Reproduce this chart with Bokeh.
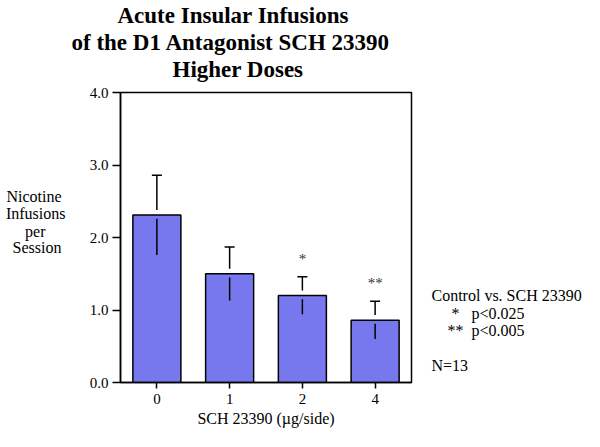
from bokeh.plotting import figure
from bokeh.models import (ColumnDataSource, Whisker, TeeHead, Title, PrintfTickFormatter,
                          FixedTicker, FactorRange, Range1d, LinearAxis)
from bokeh.embed import file_html
from bokeh.resources import INLINE
from bokeh.core.properties import value

# ---- data ----
doses = ["0", "1", "2", "4"]
means = [2.31, 1.50, 1.20, 0.86]
sems = [0.55, 0.37, 0.26, 0.26]
sig_marks = ["", "", "*", "**"]

title_lines = ["Acute Insular Infusions", "of the D1 Antagonist SCH 23390", "Higher Doses"]
ylabel_lines = ["Nicotine", "Infusions", "per", "Session"]
xlabel = "SCH 23390 (\u00b5g/side)"
y_ticks = [0, 1, 2, 3, 4]
note_lines = ["Control vs. SCH 23390", "*  p<0.025", "** p<0.005", "N=13"]

W, H = 584, 431
FL, FT, FW, FH = 120, 91, 292, 291   # frame left/top/width/height (page px)
FONT = "Liberation Serif"
BAR = "#7878EE"
NB = "\u00a0"

upper = [m + s for m, s in zip(means, sems)]
lower = [m - s for m, s in zip(means, sems)]
src = ColumnDataSource(dict(
    dose=doses, mean=means, upper=upper, lower=lower,
    up_a=[m + 0.07 for m in means], lo_a=[m - 0.05 for m in means],
    sig=sig_marks, sig_y=[u + 0.25 for u in upper],
))

p = figure(width=W, height=H, x_range=FactorRange(*doses, range_padding=0),
           y_range=Range1d(0, 4), output_backend="svg", toolbar_location=None,
           title_location=None,
           min_border_left=FL, min_border_right=W - FL - FW, min_border_top=FT,
           min_border_bottom=H - FT - FH)
# a range in page pixels (bottom of frame -> top of frame) for positioning side texts
p.extra_y_ranges = {"page": Range1d(FT + FH, FT)}
p.grid.visible = False
p.background_fill_color = "white"
p.border_fill_color = "white"
p.outline_line_color = "black"
p.outline_line_width = 1.5

# title lines: spacer nearest the frame, then bottom line first
p.add_layout(Title(text=" ", text_font_size="8px", standoff=0), "above")
title_left = [117, 71, 172]
for t, lx in reversed(list(zip(title_lines, title_left))):
    p.add_layout(Title(text=t, align="left", offset=lx - FL, text_font=FONT,
                       text_font_size="23px", text_font_style="bold", text_color="black",
                       standoff=0), "above")

p.vbar(x="dose", top="mean", width=0.66, source=src, fill_color=BAR,
       line_color="black", line_width=1.5)

# stems with small gap around bar top
p.segment(x0="dose", y0="up_a", x1="dose", y1="upper", source=src, line_color="black", line_width=1.5)
p.segment(x0="dose", y0="lower", x1="dose", y1="lo_a", source=src, line_color="black", line_width=1.5)
w = Whisker(base="dose", upper="upper", lower="lower", source=src, line_alpha=0,
            upper_head=TeeHead(size=10, line_color="black", line_width=1.5),
            lower_head=TeeHead(size=10, line_color="black", line_width=1.5))
p.add_layout(w)

p.text(x="dose", y="sig_y", text="sig", source=src, text_font=value(FONT),
       text_font_size="15px", text_align="center", text_baseline="middle", text_color="#333333")

# axes
for ax in (p.xaxis[0], p.yaxis[0]):
    ax.axis_line_color = "black"
    ax.axis_line_width = 1.5
    ax.major_tick_line_color = "black"
    ax.major_tick_line_width = 1.5
    ax.major_tick_out = 6
    ax.major_tick_in = 0
    ax.minor_tick_line_color = None
    ax.major_label_text_font = FONT
    ax.major_label_text_font_size = "15px"
    ax.major_label_text_color = "black"
p.yaxis[0].ticker = FixedTicker(ticks=y_ticks)
p.yaxis[0].formatter = PrintfTickFormatter(format="%.1f")
p.yaxis[0].major_tick_out = 8
p.yaxis[0].major_label_standoff = 4
p.xaxis[0].major_label_standoff = 5
p.xaxis[0].axis_label = xlabel
p.xaxis[0].axis_label_text_font = FONT
p.xaxis[0].axis_label_text_font_size = "16px"
p.xaxis[0].axis_label_text_font_style = "normal"
p.xaxis[0].axis_label_text_color = "black"
p.xaxis[0].axis_label_standoff = 3

def text_axis(side, ys, lines, standoff):
    ax = LinearAxis(y_range_name="page", ticker=FixedTicker(ticks=ys),
                    major_label_overrides={y: t for y, t in zip(ys, lines)},
                    axis_line_color=None, major_tick_line_color=None,
                    minor_tick_line_color=None, major_tick_out=0, major_tick_in=0,
                    major_label_standoff=standoff, major_label_text_font=FONT,
                    major_label_text_font_size="16px", major_label_text_color="black")
    p.add_layout(ax, side)

# y-axis title, one horizontal line per row (right-aligned labels padded to look centred)
ylab_pad = [1, 0, 5, 1]
text_axis("left", [195, 212, 230, 247],
          [t + NB * k for t, k in zip(ylabel_lines, ylab_pad)], 21)

# significance note on the right
note_indent = ["", NB * 5, NB * 4, ""]
note_text = [note_lines[0],
             note_indent[1] + "*" + NB * 3 + "p<0.025",
             note_indent[2] + "**" + NB * 2 + "p<0.005",
             note_lines[3]]
text_axis("right", [295, 313, 330, 365], note_text, 20)

open("out.html", "w").write(file_html(p, INLINE))
